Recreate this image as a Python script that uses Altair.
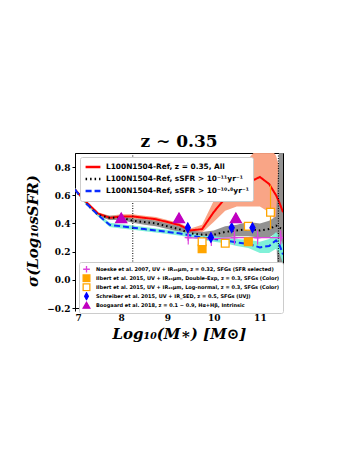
import altair as alt
import pandas as pd

# ---------------- data ----------------
mass = [7.0, 7.25, 7.5, 7.75, 8.0, 8.25, 8.5, 8.75, 9.0, 9.25, 9.5, 9.75,
        10.0, 10.25, 10.5, 10.75, 11.0, 11.2, 11.35, 11.42, 11.5]

all_sig = [0.64, 0.55, 0.47, 0.44, 0.45, 0.45, 0.44, 0.43, 0.41, 0.39, 0.35, 0.36,
           0.48, 0.58, 0.64, 0.69, 0.73, 0.68, 0.60, 0.55, 0.48]
all_lo = [0.63, 0.54, 0.46, 0.425, 0.435, 0.435, 0.425, 0.415, 0.395, 0.375, 0.335, 0.335,
          0.41, 0.49, 0.52, 0.52, 0.52, 0.48, 0.42, 0.36, 0.30]
all_hi = [0.65, 0.56, 0.48, 0.455, 0.465, 0.465, 0.455, 0.445, 0.425, 0.405, 0.365, 0.39,
          0.56, 0.67, 0.76, 0.86, 0.95, 0.95, 0.88, 0.80, 0.72]

s11_sig = [0.64, 0.54, 0.46, 0.44, 0.44, 0.42, 0.41, 0.40, 0.38, 0.36, 0.33, 0.32,
           0.32, 0.34, 0.35, 0.36, 0.35, 0.36, 0.385, 0.37, 0.36]
s11_lo = [0.63, 0.53, 0.45, 0.425, 0.425, 0.405, 0.39, 0.38, 0.36, 0.34, 0.31, 0.30,
          0.29, 0.30, 0.31, 0.31, 0.30, 0.30, 0.33, -0.25, -0.25]
s11_hi = [0.65, 0.55, 0.47, 0.455, 0.455, 0.435, 0.43, 0.42, 0.40, 0.38, 0.35, 0.34,
          0.35, 0.38, 0.39, 0.41, 0.40, 0.42, 0.45, 0.95, 0.95]

s108_sig = [0.64, 0.54, 0.46, 0.39, 0.38, 0.37, 0.36, 0.35, 0.34, 0.33, 0.315, 0.30,
            0.29, 0.28, 0.265, 0.255, 0.23, 0.24, 0.28, 0.25, 0.18]
s108_lo = [0.63, 0.53, 0.45, 0.375, 0.365, 0.355, 0.345, 0.335, 0.325, 0.315, 0.30, 0.285,
           0.27, 0.26, 0.24, 0.225, 0.19, 0.19, 0.22, 0.19, 0.12]
s108_hi = [0.65, 0.55, 0.47, 0.405, 0.395, 0.385, 0.375, 0.365, 0.355, 0.345, 0.33, 0.315,
           0.31, 0.30, 0.29, 0.285, 0.27, 0.29, 0.34, 0.31, 0.25]

model_names = ["L100N1504-Ref, z = 0.35, All",
               "L100N1504-Ref, sSFR > 10⁻¹¹yr⁻¹",
               "L100N1504-Ref, sSFR > 10⁻¹⁰·⁸yr⁻¹"]
model_colors = ["#ff0000", "#000000", "#0a2cff"]
model_dash = [[1, 0], [1.5, 3], [6, 3]]
band_colors = ["#f9a07f", "#8c8c8c", "#7af0d6"]

obs_names = ["Noeske et al. 2007, UV + IR₂₄μm, z = 0.32, SFGs (SFR selected)",
             "Ilbert et al. 2015, UV + IR₂₄μm, Double-Exp, z = 0.3, SFGs (Color)",
             "Ilbert et al. 2015, UV + IR₂₄μm, Log-normal, z = 0.3, SFGs (Color)",
             "Schreiber et al. 2015, UV + IR_SED, z = 0.5, SFGs (UVJ)",
             "Boogaard et al. 2018, z = 0.1 − 0.9, Hα+Hβ, Intrinsic"]
obs_stroke = ["#dd44dd", "#ffa500", "#ffa500", "#0000ff", "#c000c0"]
obs_fill = ["#dd44dd", "#ffa500", "#ffffff", "#0000ff", "#c000c0"]
obs_shape = ["M-1,0L1,0M0,-1L0,1", "square", "square",
             "M0,-1L0.55,0L0,1L-0.55,0Z", "triangle-up"]
obs_size = [50, 60, 60, 85, 120]

noeske_x = [9.45, 9.95, 10.45, 10.95, 11.45]
noeske_y = [0.30, 0.29, 0.30, 0.30, 0.30]
noeske_lo = [0.25, 0.24, 0.25, 0.25, 0.25]
noeske_hi = [0.35, 0.34, 0.35, 0.35, 0.35]

ilbde_x = [9.75, 10.75]
ilbde_y = [0.22, 0.27]
ilbde_lo = [0.20, 0.25]
ilbde_hi = [0.24, 0.29]

ilbln_x = [9.75, 10.25, 10.75, 11.23]
ilbln_y = [0.27, 0.26, 0.38, 0.48]
ilbln_lo = [0.25, 0.25, 0.36, 0.36]
ilbln_hi = [0.29, 0.27, 0.40, 0.67]

sch_x = [9.44, 9.94, 10.39, 10.84]
sch_y = [0.37, 0.30, 0.37, 0.37]
sch_lo = [0.345, 0.275, 0.345, 0.345]
sch_hi = [0.395, 0.325, 0.395, 0.395]

boo_x = [8.0, 9.25, 10.48]
boo_y = [0.44, 0.44, 0.44]
boo_lo = [0.41, 0.41, 0.41]
boo_hi = [0.47, 0.47, 0.47]

vlines = [8.25, 11.4]

# ---------------- tables ----------------
rows = []
for name, s, lo, hi in zip(model_names, [all_sig, s11_sig, s108_sig],
                           [all_lo, s11_lo, s108_lo], [all_hi, s11_hi, s108_hi]):
    for m, v, l, h in zip(mass, s, lo, hi):
        rows.append({"model": name, "mass": m, "sig": v, "lo": l, "hi": h})
models = pd.DataFrame(rows)

orows = []
for name, xs, ys, los, his in zip(
        obs_names,
        [noeske_x, ilbde_x, ilbln_x, sch_x, boo_x],
        [noeske_y, ilbde_y, ilbln_y, sch_y, boo_y],
        [noeske_lo, ilbde_lo, ilbln_lo, sch_lo, boo_lo],
        [noeske_hi, ilbde_hi, ilbln_hi, sch_hi, boo_hi]):
    for x, y, l, h in zip(xs, ys, los, his):
        orows.append({"obs": name, "mass": x, "sig": y, "lo": l, "hi": h})
obs = pd.DataFrame(orows)

vl = pd.DataFrame({"x": vlines})

xscale = alt.Scale(domain=[7, 11.5], nice=False, zero=False)
yscale = alt.Scale(domain=[-0.2, 0.9], nice=False, zero=False)

xaxis = alt.Axis(title="Log₁₀(M∗) [M⊙]", values=[7, 8, 9, 10, 11], format="d",
                 labelOverlap=False)
yaxis = alt.Axis(title="σ(Log₁₀sSFR)", values=[-0.2, 0, 0.2, 0.4, 0.6, 0.8],
                 format=".1f", labelOverlap=False)

X = alt.X("mass:Q", scale=xscale, axis=xaxis)
Y = alt.Y("sig:Q", scale=yscale, axis=yaxis)

base = alt.Chart(models)

bands = []
for name, col in zip(model_names, band_colors):
    bands.append(
        base.transform_filter(alt.datum.model == name)
        .mark_area(color=col, opacity=0.95, clip=True)
        .encode(x=X, y=alt.Y("lo:Q", scale=yscale, axis=yaxis), y2="hi:Q")
    )

leg1 = dict(title=None, orient="none", legendX=5, legendY=4,
            symbolType="stroke", symbolSize=220, symbolStrokeWidth=2.5,
            labelFont="DejaVu Sans", labelFontSize=7.4, labelFontWeight="bold",
            rowPadding=0, clipHeight=12, fillColor="white", strokeColor="#cccccc",
            padding=4, cornerRadius=2, labelLimit=300)

lines = base.mark_line(strokeWidth=2, clip=True).encode(
    x=X, y=Y,
    color=alt.Color("model:N",
                    scale=alt.Scale(domain=model_names, range=model_colors),
                    legend=alt.Legend(**leg1)),
    strokeDash=alt.StrokeDash("model:N",
                              scale=alt.Scale(domain=model_names, range=model_dash),
                              legend=alt.Legend(**leg1)),
)

vrules = alt.Chart(vl).mark_rule(color="black", strokeDash=[1, 1.5], strokeWidth=1).encode(
    x=alt.X("x:Q", scale=xscale, axis=xaxis)
)

noeske_line = alt.Chart(obs).transform_filter(alt.datum.obs == obs_names[0]).mark_line(
    color="#dd44dd", strokeWidth=1.2, clip=True).encode(x=X, y=Y)

errs = []
for name, col in zip(obs_names, obs_stroke):
    errs.append(
        alt.Chart(obs).transform_filter(alt.datum.obs == name)
        .mark_rule(strokeWidth=1.2, color=col, clip=True)
        .encode(x=X, y=alt.Y("lo:Q", scale=yscale, axis=yaxis), y2="hi:Q")
    )

leg2 = dict(title=None, orient="none", legendX=4, legendY=109,
            labelFont="DejaVu Sans", labelFontSize=5.0, labelFontWeight="bold",
            rowPadding=0, clipHeight=8.5, fillColor="white", strokeColor="#cccccc",
            padding=3, cornerRadius=2, labelLimit=400, symbolStrokeWidth=1.3,
            symbolSize=45, labelOffset=5)

# small points that carry the legend
legend_points = alt.Chart(obs).mark_point(filled=False, strokeWidth=1.2, size=20,
                                          opacity=1, clip=True).encode(
    x=X, y=Y,
    shape=alt.Shape("obs:N", scale=alt.Scale(domain=obs_names, range=obs_shape),
                    legend=alt.Legend(**leg2)),
    fill=alt.Fill("obs:N", scale=alt.Scale(domain=obs_names, range=obs_fill),
                  legend=alt.Legend(**leg2)),
    stroke=alt.Stroke("obs:N", scale=alt.Scale(domain=obs_names, range=obs_stroke),
                      legend=alt.Legend(**leg2)),
)

big_points = []
for name, shp, fc, sc, sz in zip(obs_names, obs_shape, obs_fill, obs_stroke, obs_size):
    big_points.append(
        alt.Chart(obs).transform_filter(alt.datum.obs == name)
        .mark_point(shape=shp, fill=fc, stroke=sc, size=sz, strokeWidth=1.3,
                    opacity=1, filled=False, clip=True)
        .encode(x=X, y=Y)
    )

chart = alt.layer(*bands, lines, vrules, noeske_line, *errs, legend_points,
                  *big_points).properties(
    width=208, height=155,
    title=alt.TitleParams("z ∼ 0.35", font="DejaVu Serif", fontSize=17,
                          fontWeight="bold", offset=2),
    padding={"left": 17, "top": 124, "right": 5, "bottom": 5},
).configure_view(stroke="black", strokeWidth=1).configure_axis(
    labelFont="DejaVu Serif", labelFontWeight="bold", labelFontSize=9,
    labelColor="black", tickColor="black", domainColor="black", tickSize=3,
    titleFont="DejaVu Serif", titleFontWeight="bold", titleFontStyle="italic",
    titleFontSize=15, titleColor="black", grid=False,
).configure_axisY(titlePadding=6).configure_axisX(titlePadding=4)

chart.save("out.html", embed_options={"renderer": "svg", "actions": False})
